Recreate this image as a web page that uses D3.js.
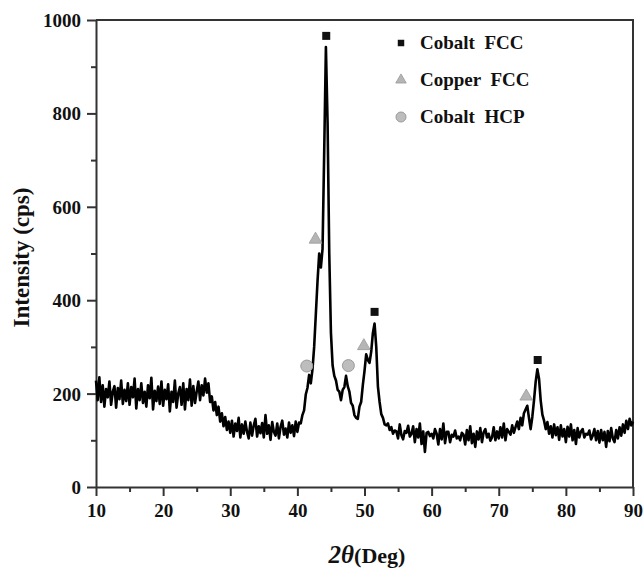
<!DOCTYPE html>
<html>
<head>
<meta charset="utf-8">
<script src="https://cdn.jsdelivr.net/npm/d3@7"></script>
<style>
  body { margin: 0; background: #fff; }
  text { font-family: "Liberation Serif", "Times New Roman", serif; font-weight: bold; fill: #111; }
</style>
</head>
<body>
<div id="viz"></div>
<script>
const width = 644;
const height = 575;
const margin = {top: 20, right: 11, bottom: 88, left: 96};

// scan grid: 10 to 90 deg, 0.25 deg step
const thetaStart = 10;
const thetaStep = 0.25;

// intensity (cps), one row per 5 deg
const intensity = [
  228, 186, 235, 182, 218, 172, 210, 192, 226, 176, 204, 216, 170, 212, 188, 228, 178, 208, 184, 222,
  176, 214, 192, 232, 168, 210, 186, 222, 180, 204, 172, 218, 190, 234, 166, 206, 184, 215, 178, 226,
  174, 208, 188, 220, 162, 204, 182, 228, 170, 200, 214, 176, 222, 166, 210, 186, 230, 174, 216, 180,
  204, 226, 186, 218, 196, 232, 202, 222, 182, 194, 164, 182, 154, 172, 140, 158, 130, 150, 122, 140,
  116, 142, 108, 136, 120, 148, 106, 134, 114, 140, 118, 104, 138, 110, 132, 146, 108, 130, 115, 137,
  106, 154, 114, 132, 101, 139, 118, 110, 136, 104, 129, 142, 112, 125, 106, 138, 116, 132, 109, 140,
  118, 138, 136, 154, 164, 198, 212, 240, 222, 252, 300, 370, 440, 500, 470, 510, 720, 942, 780, 500,
  330, 260, 238, 228, 208, 204, 186, 208, 214, 238, 216, 204, 180, 174, 154, 148, 146, 172, 182, 218,
  248, 284, 272, 266, 290, 330, 350, 300, 215, 182, 156, 148, 134, 132, 136, 122, 128, 114, 121, 119,
  104, 134, 111, 102, 120, 116, 131, 108, 114, 130, 96, 124, 106, 136, 92, 119, 75, 116, 118, 109,
  114, 104, 124, 114, 91, 124, 102, 136, 94, 118, 118, 96, 112, 108, 121, 104, 108, 100, 116, 112,
  91, 122, 100, 130, 94, 114, 86, 119, 102, 126, 96, 117, 124, 106, 114, 99, 106, 128, 100, 119,
  104, 128, 106, 136, 100, 124, 118, 112, 132, 116, 128, 140, 124, 148, 132, 158, 166, 174, 148, 124,
  150, 185, 225, 252, 232, 185, 155, 142, 124, 139, 114, 130, 106, 134, 111, 128, 101, 132, 108, 124,
  96, 129, 108, 134, 100, 122, 92, 126, 106, 119, 124, 106, 114, 112, 121, 102, 110, 124, 100, 120,
  95, 122, 100, 118, 86, 120, 98, 126, 104, 96, 122, 104, 128, 110, 134, 116, 142, 124, 146, 132,
  140
];

// phase markers: [2theta, cps]
const cobaltFcc = [[44.3, 966], [51.5, 375], [75.8, 272]];
const copperFcc = [[42.7, 530], [49.9, 302], [74.1, 194]];
const cobaltHcp = [[41.4, 259], [47.6, 260]];

const xTicks = [10, 20, 30, 40, 50, 60, 70, 80, 90];
const yTicks = [0, 200, 400, 600, 800, 1000];

const legendItems = [
  {label: 'Cobalt  FCC', shape: 'square'},
  {label: 'Copper  FCC', shape: 'triangle'},
  {label: 'Cobalt  HCP', shape: 'circle'},
];

const scan = intensity.map((v, i) => ({theta: thetaStart + i * thetaStep, cps: v}));

const svg = d3.select('#viz').append('svg')
  .attr('width', width)
  .attr('height', height);

const x = d3.scaleLinear().domain([10, 90]).range([margin.left, width - margin.right]);
const y = d3.scaleLinear().domain([0, 1000]).range([height - margin.bottom, margin.top]);

const axisColor = '#333';

// minor ticks
svg.append('g')
  .attr('transform', `translate(0,${y(0)})`)
  .call(d3.axisBottom(x).tickValues(d3.range(15, 90, 10)).tickSize(5).tickFormat(''))
  .call(g => g.select('.domain').remove())
  .call(g => g.selectAll('line').attr('stroke', axisColor).attr('stroke-width', 2));
svg.append('g')
  .attr('transform', `translate(${x(10)},0)`)
  .call(d3.axisLeft(y).tickValues(d3.range(100, 1000, 200)).tickSize(5).tickFormat(''))
  .call(g => g.select('.domain').remove())
  .call(g => g.selectAll('line').attr('stroke', axisColor).attr('stroke-width', 2));

// major axes
const xAxis = svg.append('g')
  .attr('transform', `translate(0,${y(0)})`)
  .call(d3.axisBottom(x).tickValues(xTicks).tickSize(9).tickPadding(8).tickSizeOuter(0));
const yAxis = svg.append('g')
  .attr('transform', `translate(${x(10)},0)`)
  .call(d3.axisLeft(y).tickValues(yTicks).tickFormat(d3.format('d')).tickSize(9).tickPadding(6).tickSizeOuter(0));

[xAxis, yAxis].forEach(g => {
  g.select('.domain').attr('stroke', axisColor).attr('stroke-width', 2);
  g.selectAll('line').attr('stroke', axisColor).attr('stroke-width', 2);
  g.selectAll('text')
    .style('font-family', '"Liberation Serif", serif')
    .style('font-weight', 'bold')
    .style('font-size', '19px')
    .attr('fill', '#111');
});
yAxis.selectAll('text').attr('dy', '0.34em');

// frame top and right
svg.append('path')
  .attr('d', `M${x(10)},${y(1000)}H${x(90)}V${y(0)}`)
  .attr('fill', 'none')
  .attr('stroke', axisColor)
  .attr('stroke-width', 2);

// scan line
const line = d3.line().x(d => x(d.theta)).y(d => y(d.cps));
svg.append('path')
  .datum(scan)
  .attr('d', line)
  .attr('fill', 'none')
  .attr('stroke', '#000')
  .attr('stroke-width', 2.6)
  .attr('stroke-linejoin', 'round');

// markers
const sq = d3.symbol().type(d3.symbolSquare).size(64);
const tri = d3.symbol().type(d3.symbolTriangle).size(70);

svg.append('g').selectAll('path').data(cobaltFcc).join('path')
  .attr('transform', d => `translate(${x(d[0])},${y(d[1])})`)
  .attr('d', sq)
  .attr('fill', '#111');
svg.append('g').selectAll('path').data(copperFcc).join('path')
  .attr('transform', d => `translate(${x(d[0])},${y(d[1])})`)
  .attr('d', tri)
  .attr('fill', '#b5b5b5')
  .attr('stroke', '#999')
  .attr('stroke-width', 0.8);
svg.append('g').selectAll('circle').data(cobaltHcp).join('circle')
  .attr('cx', d => x(d[0]))
  .attr('cy', d => y(d[1]))
  .attr('r', 6)
  .attr('fill', '#bdbdbd')
  .attr('stroke', '#9a9a9a')
  .attr('stroke-width', 1);

// legend
const legend = svg.append('g').attr('transform', 'translate(401,43)');
legendItems.forEach((item, i) => {
  const row = legend.append('g').attr('transform', `translate(0,${i * 37})`);
  if (item.shape === 'square') {
    row.append('path').attr('d', d3.symbol().type(d3.symbolSquare).size(42)).attr('fill', '#111');
  } else if (item.shape === 'triangle') {
    row.append('path').attr('d', d3.symbol().type(d3.symbolTriangle).size(48))
      .attr('fill', '#b5b5b5').attr('stroke', '#999').attr('stroke-width', 0.8);
  } else {
    row.append('circle').attr('r', 5).attr('fill', '#bdbdbd').attr('stroke', '#9a9a9a');
  }
  row.append('text')
    .attr('x', 19)
    .attr('y', 6)
    .attr('xml:space', 'preserve')
    .style('white-space', 'pre')
    .style('font-size', '19px')
    .text(item.label);
});

// axis titles
svg.append('text')
  .attr('transform', `translate(29,${(y(0) + y(1000)) / 2 + 4}) rotate(-90)`)
  .attr('text-anchor', 'middle')
  .style('font-size', '23px')
  .text('Intensity (cps)');

const xt = svg.append('text')
  .attr('x', 367)
  .attr('y', 563)
  .attr('text-anchor', 'middle');
xt.append('tspan').style('font-style', 'italic').style('font-size', '25px').text('2θ');
xt.append('tspan').style('font-size', '22px').text('(Deg)');
</script>
</body>
</html>
